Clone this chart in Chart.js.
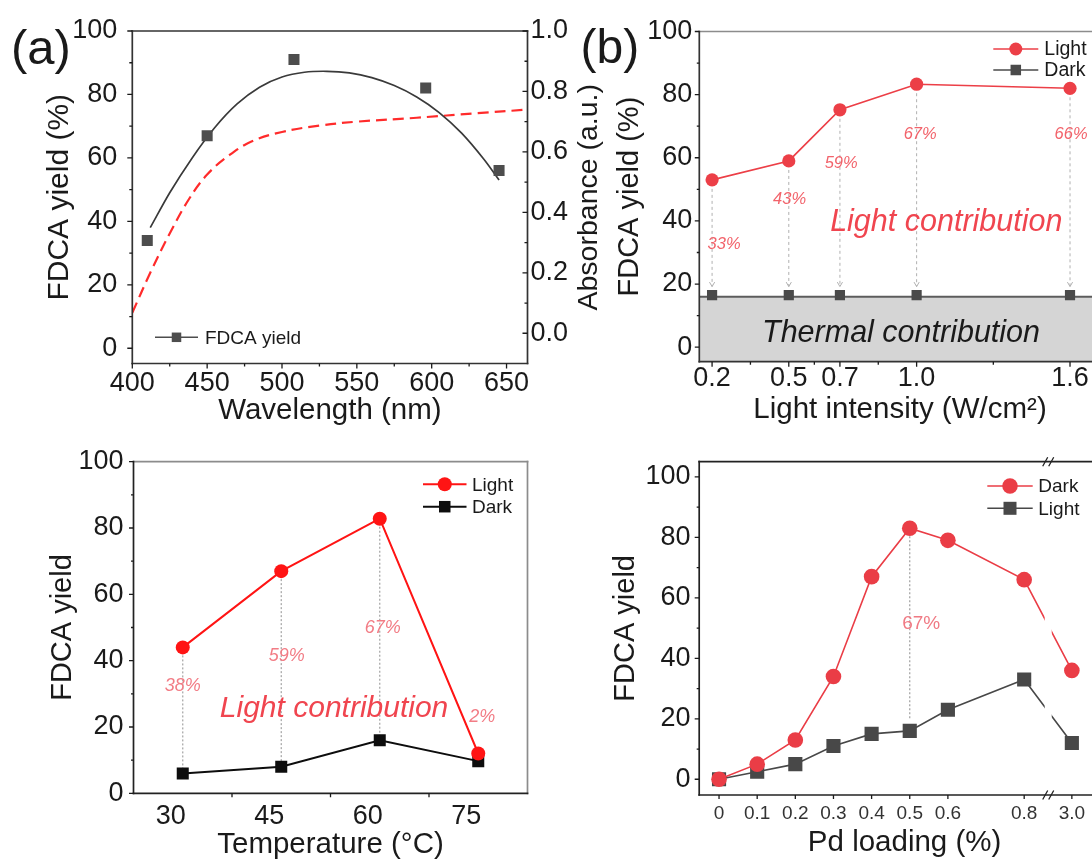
<!DOCTYPE html>
<html>
<head>
<meta charset="utf-8">
<title>FDCA yield – four panels</title>
<script src="https://cdn.jsdelivr.net/npm/chart.js@4/dist/chart.umd.min.js"></script>
<style>
  html, body { margin: 0; padding: 0; background: #fff; width: 1092px; height: 860px; overflow: hidden; }
  .panel { position: absolute; }
  .panel canvas { display: block; }
</style>
</head>
<body>
<div class="panel" style="left:0;top:0;width:620px;height:432px"><canvas id="chartA" width="620" height="432"></canvas></div>
<div class="panel" style="left:560px;top:0;width:560px;height:432px"><canvas id="chartB" width="560" height="432"></canvas></div>
<div class="panel" style="left:0;top:430px;width:546px;height:430px"><canvas id="chartC" width="546" height="430"></canvas></div>
<div class="panel" style="left:560px;top:430px;width:560px;height:430px"><canvas id="chartD" width="560" height="430"></canvas></div>

<script>
// ---------- (a) yield vs. wavelength, with absorbance ----------
const wavelengths = [410, 450, 508, 596, 645];
const yieldByWavelength = [34, 67, 91, 82, 56];
const fitWavelengths = [412, 425, 440, 455, 470, 485, 500, 515, 530, 545, 560, 575, 590, 605, 620, 635, 645];
const fitYield = [38, 49, 60, 69.5, 77, 82.3, 85.5, 87, 87.3, 86.8, 85.3, 82.8, 79.2, 74.3, 67.8, 59.5, 53];
const absWavelengths = [400, 412, 425, 438, 450, 465, 480, 500, 525, 550, 590, 630, 664];
const absorbance = [0.068, 0.20, 0.33, 0.445, 0.525, 0.59, 0.635, 0.666, 0.687, 0.70, 0.713, 0.728, 0.74];
const wavelengthTicks = [400, 450, 500, 550, 600, 650];
const yieldTicks = [0, 20, 40, 60, 80, 100];
const absTicks = [0, 0.2, 0.4, 0.6, 0.8, 1.0];
const absTickLabels = ['0.0', '0.2', '0.4', '0.6', '0.8', '1.0'];

// ---------- (b) yield vs. light intensity ----------
const intensities = [0.2, 0.5, 0.7, 1.0, 1.6];
const intensityTickLabels = ['0.2', '0.5', '0.7', '1.0', '1.6'];
const yieldLightB = [53, 59, 75.2, 83.3, 82];
const yieldDarkB = [16.5, 16.5, 16.5, 16.5, 16.5];
const thermalLevelB = 16;
const lightShareB = ['33%', '43%', '59%', '67%', '66%'];

// ---------- (c) yield vs. temperature ----------
const temperatures = ['30', '45', '60', '75'];
const yieldLightC = [44, 67, 82.8, 12];
const yieldDarkC = [6, 8, 16, 9.7];
const lightShareC = ['38%', '59%', '67%', '2%'];

// ---------- (d) yield vs. Pd loading ----------
const pdLoadings = [0, 0.1, 0.2, 0.3, 0.4, 0.5, 0.6, 0.8, 3.0];
const pdTickLabels = ['0', '0.1', '0.2', '0.3', '0.4', '0.5', '0.6', '0.8', '3.0'];
const yieldDarkD = [0, 5, 13, 34, 67, 83, 79, 66, 36];
const yieldLightD = [0, 2.5, 5, 11, 15, 16, 23, 33, 12];
const lightShareD = ['67%'];

// ---------- look ----------
const FONT = "'Liberation Sans', Arial, Helvetica, sans-serif";
const INK = '#1a1a1a';
Chart.defaults.font.family = FONT;
Chart.defaults.color = INK;
Chart.defaults.animation = false;
Chart.defaults.events = [];
Chart.defaults.plugins.legend.display = false;
Chart.defaults.plugins.tooltip.enabled = false;

const pts = (xs, ys) => xs.map((x, i) => ({ x, y: ys[i] }));
const setTicks = values => scale => { scale.ticks = values.map(v => ({ value: v })); };

// Linear scale that squeezes out the stretch between breakFrom and breakTo.
const LinearBase = Chart.registry.getScale('linear');
class BrokenLinearScale extends LinearBase {
  squeeze(v) {
    const a = this.options.breakFrom, b = this.options.breakTo;
    if (a == null || v <= a) return v;
    if (v >= b) return a + (v - b);
    return a;
  }
  expand(u) {
    const a = this.options.breakFrom, b = this.options.breakTo;
    if (a == null || u <= a) return u;
    return b + (u - a);
  }
  configure() {
    super.configure();
    const s = this.squeeze(this.min), e = this.squeeze(this.max);
    this._startValue = s;
    this._endValue = e;
    this._valueRange = e - s;
  }
  getPixelForValue(v) {
    return (v === null || isNaN(v)) ? NaN : this.getPixelForDecimal((this.squeeze(v) - this._startValue) / this._valueRange);
  }
  getValueForPixel(p) {
    return this.expand(this._startValue + this.getDecimalForPixel(p) * this._valueRange);
  }
}
BrokenLinearScale.id = 'brokenLinear';
BrokenLinearScale.defaults = {};
Chart.register(BrokenLinearScale);

// Per-canvas decoration settings (frame, tick marks, key, notes ...)
const decor = {};
const cfg = (chart, key) => (decor[chart.canvas.id] || {})[key];

// ---------- drawing helpers (plugins) ----------
const linksPlugin = {
  id: 'links',
  beforeDatasetsDraw(chart) {
    const sets = cfg(chart, 'links');
    if (!sets) return;
    const ctx = chart.ctx, xs = chart.scales.x, ys = chart.scales.y;
    sets.forEach(set => {
      set.at.forEach(i => {
        const x = xs.getPixelForValue(set.xs ? set.xs[i] : i);
        const y0 = ys.getPixelForValue(set.from[i]) + (set.startGap || 0);
        const y1 = ys.getPixelForValue(set.to[i]) - (set.endGap || 0);
        ctx.save();
        ctx.strokeStyle = set.color; ctx.lineWidth = set.width || 1;
        ctx.setLineDash(set.dash || []);
        ctx.beginPath(); ctx.moveTo(x, y0); ctx.lineTo(x, y1); ctx.stroke();
        if (set.arrow) {
          ctx.setLineDash([]);
          ctx.beginPath();
          ctx.moveTo(x - 2.6, y1 - 4.5); ctx.lineTo(x, y1); ctx.lineTo(x + 2.6, y1 - 4.5);
          ctx.stroke();
        }
        ctx.restore();
      });
    });
  }
};

const notesPlugin = {
  id: 'notes',
  afterDatasetsDraw(chart) {
    const items = cfg(chart, 'notes');
    if (!items) return;
    const ctx = chart.ctx;
    items.forEach(n => {
      const px = chart.scales.x.getPixelForValue(n.x);
      const py = chart.scales.y.getPixelForValue(n.y);
      ctx.save();
      ctx.font = (n.italic ? 'italic ' : '') + n.size + 'px ' + FONT;
      ctx.fillStyle = n.color;
      ctx.textAlign = 'center';
      ctx.textBaseline = 'middle';
      ctx.fillText(n.text, px, py);
      ctx.restore();
    });
  }
};

const gapPlugin = {
  id: 'axisBreak',
  beforeDatasetsDraw(chart) {
    const o = cfg(chart, 'axisBreak');
    if (!o) return;
    const a = chart.chartArea, ctx = chart.ctx;
    const x = chart.scales.x.getPixelForValue(o.value), g = o.lineGap;
    ctx.save();
    ctx.beginPath();
    ctx.rect(a.left - 20, a.top - 20, (x - g) - (a.left - 20), a.bottom - a.top + 40);
    ctx.rect(x + g, a.top - 20, a.right + 20 - (x + g), a.bottom - a.top + 40);
    ctx.clip();
  },
  afterDatasetsDraw(chart) {
    if (!cfg(chart, 'axisBreak')) return;
    chart.ctx.restore();
  },
  afterDraw(chart) {
    const o = cfg(chart, 'axisBreak');
    if (!o) return;
    const a = chart.chartArea, ctx = chart.ctx;
    const x = chart.scales.x.getPixelForValue(o.value), g = o.markGap;
    [a.top, a.bottom].forEach(y => {
      ctx.save();
      ctx.fillStyle = '#fff';
      ctx.fillRect(x - g, y - 3, 2 * g, 6);
      ctx.strokeStyle = o.color; ctx.lineWidth = 1.3;
      ctx.beginPath();
      [-g, g].forEach(off => { ctx.moveTo(x + off - 2.5, y + 4.5); ctx.lineTo(x + off + 2.5, y - 4.5); });
      ctx.stroke();
      ctx.restore();
    });
  }
};

const framePlugin = {
  id: 'frame',
  afterDraw(chart) {
    const o = cfg(chart, 'frame');
    if (!o) return;
    const a = chart.chartArea, ctx = chart.ctx, s = o.sides;
    const seg = (c, x0, y0, x1, y1) => {
      if (!c) return;
      ctx.strokeStyle = c; ctx.beginPath(); ctx.moveTo(x0, y0); ctx.lineTo(x1, y1); ctx.stroke();
    };
    ctx.save();
    ctx.lineWidth = o.width; ctx.lineCap = 'square';
    seg(s.top, a.left, a.top, a.right, a.top);
    seg(s.right, a.right, a.top, a.right, a.bottom);
    seg(s.bottom, a.left, a.bottom, a.right, a.bottom);
    seg(s.left, a.left, a.top, a.left, a.bottom);
    ctx.restore();
  }
};

const marksPlugin = {
  id: 'tickMarks',
  afterDraw(chart) {
    const axes = cfg(chart, 'tickMarks');
    if (!axes) return;
    const a = chart.chartArea, ctx = chart.ctx;
    axes.forEach(ax => {
      const s = chart.scales[ax.id];
      const major = Array.isArray(ax.values) ? ax.values : s.ticks.map(t => t.value);
      const list = major.map(v => [v, ax.len]).concat((ax.minor || []).map(v => [v, ax.minorLen]));
      const sign = ax.dir === 'in' ? -1 : 1;
      ctx.save();
      ctx.strokeStyle = ax.color || INK; ctx.lineWidth = ax.width || 1.3;
      ctx.beginPath();
      list.forEach(([v, len]) => {
        const p = s.getPixelForValue(v);
        if (ax.side === 'left') { ctx.moveTo(a.left, p); ctx.lineTo(a.left - sign * len, p); }
        else if (ax.side === 'right') { ctx.moveTo(a.right, p); ctx.lineTo(a.right + sign * len, p); }
        else { ctx.moveTo(p, a.bottom); ctx.lineTo(p, a.bottom + sign * len); }
      });
      ctx.stroke();
      ctx.restore();
    });
  }
};

const keyPlugin = {
  id: 'keyBox',
  afterDraw(chart) {
    const o = cfg(chart, 'keyBox');
    if (!o) return;
    const a = chart.chartArea, ctx = chart.ctx;
    o.rows.forEach(r => {
      const ds = chart.data.datasets[r.dataset];
      const y = a.top + r.dy, x0 = a.left + o.dx, x1 = x0 + o.lineLen, xm = (x0 + x1) / 2;
      ctx.save();
      ctx.strokeStyle = ds.borderColor; ctx.lineWidth = o.lineWidth;
      ctx.beginPath(); ctx.moveTo(x0, y); ctx.lineTo(x1, y); ctx.stroke();
      ctx.fillStyle = ds.backgroundColor;
      if (ds.pointStyle === 'rect') {
        ctx.fillRect(xm - r.size / 2, y - r.size / 2, r.size, r.size);
      } else {
        ctx.beginPath(); ctx.arc(xm, y, r.size / 2, 0, Math.PI * 2); ctx.fill();
      }
      ctx.fillStyle = INK;
      ctx.font = o.size + 'px ' + FONT;
      ctx.textAlign = 'left'; ctx.textBaseline = 'middle';
      ctx.fillText(ds.label, x1 + o.gap, y + 1);
      ctx.restore();
    });
  }
};

const tagPlugin = {
  id: 'panelTag',
  afterDraw(chart) {
    const o = cfg(chart, 'panelTag');
    if (!o) return;
    const ctx = chart.ctx;
    ctx.save();
    ctx.font = o.size + 'px ' + FONT;
    ctx.fillStyle = INK; ctx.textAlign = 'left'; ctx.textBaseline = 'alphabetic';
    ctx.fillText(o.text, o.x, o.y);
    ctx.restore();
  }
};

const sideTitlePlugin = {
  id: 'sideTitle',
  afterDraw(chart) {
    const o = cfg(chart, 'sideTitle');
    if (!o) return;
    const a = chart.chartArea, ctx = chart.ctx;
    ctx.save();
    ctx.translate(o.x, (a.top + a.bottom) / 2);
    ctx.rotate(-Math.PI / 2);
    ctx.font = o.size + 'px ' + FONT;
    ctx.fillStyle = INK; ctx.textAlign = 'center'; ctx.textBaseline = 'middle';
    ctx.fillText(o.text, 0, 0);
    ctx.restore();
  }
};

Chart.register(linksPlugin, notesPlugin, gapPlugin, framePlugin, marksPlugin, keyPlugin, tagPlugin, sideTitlePlugin);

const bare = { grid: { display: false, drawTicks: false }, border: { display: false } };
const tickFont = { size: 27, lineHeight: 1 };
const titleFont = size => ({ size, lineHeight: 1.2 });
const odd10 = [10, 30, 50, 70, 90];

// ================= (a) =================
const grayA = '#4d4d4d';
decor.chartA = {
  frame: { width: 1.7, sides: { top: '#333', right: '#333', bottom: '#333', left: '#333' } },
  tickMarks: [
    { id: 'y', side: 'left', len: 5, minor: odd10, minorLen: 3 },
    { id: 'x', side: 'bottom', len: 5, minor: [425, 475, 525, 575, 625], minorLen: 3 },
    { id: 'y2', side: 'right', dir: 'in', len: 5, minor: [0.1, 0.3, 0.5, 0.7, 0.9], minorLen: 3 }
  ],
  keyBox: { dx: 22.7, lineLen: 43, gap: 7, lineWidth: 1.6, size: 19, rows: [{ dataset: 0, dy: 306.3, size: 9.5 }] },
  panelTag: { text: '(a)', x: 11, y: 63.5, size: 49 },
  sideTitle: { text: 'Absorbance (a.u.)', x: 589, size: 28.5 }
};
new Chart(document.getElementById('chartA'), {
  type: 'line',
  data: {
    datasets: [
      { label: 'FDCA yield', data: pts(wavelengths, yieldByWavelength), showLine: false,
        pointStyle: 'rect', pointRadius: 7.8, pointBorderWidth: 0,
        backgroundColor: grayA, borderColor: grayA, yAxisID: 'y' },
      { label: 'Polynomial fit', data: pts(fitWavelengths, fitYield), borderColor: '#3a3a3a',
        borderWidth: 1.7, pointRadius: 0, tension: 0.3, yAxisID: 'y' },
      { label: 'Absorbance', data: pts(absWavelengths, absorbance), borderColor: '#ff2b2b',
        borderWidth: 2.2, borderDash: [11, 6], pointRadius: 0, tension: 0.4, yAxisID: 'y2' }
    ]
  },
  options: {
    responsive: false, devicePixelRatio: 1,
    layout: { padding: { left: 0, top: 31, right: 0, bottom: 0 } },
    scales: {
      x: { ...bare, type: 'linear', min: 400, max: 664,
        afterBuildTicks: setTicks(wavelengthTicks),
        ticks: { font: tickFont, padding: 7, maxRotation: 0, autoSkip: false, color: INK },
        title: { display: true, text: 'Wavelength (nm)', font: titleFont(29.5), color: INK, padding: { top: 0, bottom: 3 } },
        afterFit: s => { s.height = 68.5; } },
      y: { ...bare, type: 'linear', position: 'left', min: -4.8, max: 100,
        afterBuildTicks: setTicks(yieldTicks),
        ticks: { font: tickFont, padding: 15, color: INK },
        title: { display: true, text: 'FDCA yield (%)', font: titleFont(30), color: INK, padding: { top: 41.5, bottom: 0 } },
        afterFit: s => { s.width = 132.3; } },
      y2: { ...bare, type: 'linear', position: 'right', min: -0.1, max: 1.0,
        afterBuildTicks: setTicks(absTicks),
        ticks: { font: tickFont, padding: 3, color: INK, callback: (v, i) => absTickLabels[i] },
        afterFit: s => { s.width = 92.5; } }
    }
  }
});

// ================= (b) =================
const redB = '#ec3f47', grayB = '#4a4a4a';
const axisB = { min: 0.15, max: 1.72 };
decor.chartB = {
  links: [{ xs: intensities, from: yieldLightB, to: yieldDarkB, at: [0, 1, 2, 3, 4],
    startGap: 9, endGap: 8.5, color: '#b0b0b0', dash: [3, 3], width: 1, arrow: true }],
  notes: [
    ...lightShareB.map((t, i) => ({ text: t, x: [0.247, 0.503, 0.705, 1.014, 1.604][i], y: [32.6, 46.7, 58.3, 67.5, 67.5][i],
      color: '#f2636b', size: 16.5, italic: true })),
    { text: 'Light contribution', x: 1.116, y: 39.5, color: '#f0454f', size: 30.5, italic: true },
    { text: 'Thermal contribution', x: 0.939, y: 4.2, color: '#1a1a1a', size: 30.5, italic: true }
  ],
  frame: { width: 1.7, sides: { top: '#8c8c8c', right: '#333', bottom: '#333', left: '#333' } },
  tickMarks: [
    { id: 'y', side: 'left', len: 4.5, minor: odd10, minorLen: 2.5 },
    { id: 'x', side: 'bottom', len: 5, minor: [0.35, 0.6, 0.85, 1.3], minorLen: 3 }
  ],
  keyBox: { dx: 294, lineLen: 45, gap: 6, lineWidth: 1.6, size: 19.5,
    rows: [{ dataset: 0, dy: 17.5, size: 13 }, { dataset: 1, dy: 38.5, size: 10.5 }] },
  panelTag: { text: '(b)', x: 20.5, y: 63, size: 48 }
};
new Chart(document.getElementById('chartB'), {
  type: 'line',
  data: {
    datasets: [
      { label: 'Light', data: pts(intensities, yieldLightB), borderColor: redB, backgroundColor: redB,
        borderWidth: 1.6, pointStyle: 'circle', pointRadius: 6.6, pointBorderWidth: 0 },
      { label: 'Dark', data: pts(intensities, yieldDarkB), showLine: false, borderColor: grayB, backgroundColor: grayB,
        pointStyle: 'rect', pointRadius: 7.2, pointBorderWidth: 0 },
      { label: 'Thermal contribution', data: pts([axisB.min, axisB.max], [thermalLevelB, thermalLevelB]),
        borderColor: '#5c5c5c', borderWidth: 2, backgroundColor: '#d5d5d5', fill: 'start', pointRadius: 0 }
    ]
  },
  options: {
    responsive: false, devicePixelRatio: 1,
    layout: { padding: { left: 0, top: 31.5, right: 19.3, bottom: 0 } },
    scales: {
      x: { ...bare, type: 'linear', min: axisB.min, max: axisB.max,
        afterBuildTicks: setTicks(intensities),
        ticks: { font: tickFont, padding: 3, maxRotation: 0, autoSkip: false, color: INK,
          callback: (v, i) => intensityTickLabels[i] },
        title: { display: true, text: 'Light intensity (W/cm²)', font: titleFont(29.5), color: INK, padding: { top: 0, bottom: 4 } },
        afterFit: s => { s.height = 70.3; } },
      y: { ...bare, type: 'linear', min: -4.6, max: 100,
        afterBuildTicks: setTicks(yieldTicks),
        ticks: { font: tickFont, padding: 7, color: INK },
        title: { display: true, text: 'FDCA yield (%)', font: titleFont(29), color: INK, padding: { top: 53, bottom: 0 } },
        afterFit: s => { s.width = 139.3; } }
    }
  }
});

// ================= (c) =================
const redC = '#ff1414', blackC = '#0d0d0d';
decor.chartC = {
  links: [{ from: yieldLightC, to: yieldDarkC, at: [0, 1, 2], color: '#a3a3a3', dash: [2, 2], width: 1.2 }],
  notes: [
    ...lightShareC.map((t, i) => ({ text: t, x: [0, 1.057, 2.03, 3.04][i], y: [32.3, 41.5, 49.7, 23][i],
      color: '#f27c85', size: 18, italic: true })),
    { text: 'Light contribution', x: 1.536, y: 25.5, color: '#f0454f', size: 30, italic: true }
  ],
  frame: { width: 1.7, sides: { top: '#8c8c8c', right: '#8c8c8c', bottom: '#222', left: '#222' } },
  tickMarks: [
    { id: 'y', side: 'left', len: 4.5, minor: odd10, minorLen: 2.5 },
    { id: 'x', side: 'bottom', values: [0.5, 1.5, 2.5], len: 4 }
  ],
  keyBox: { dx: 289.5, lineLen: 43.5, gap: 5.5, lineWidth: 2, size: 19,
    rows: [{ dataset: 0, dy: 22.6, size: 14 }, { dataset: 1, dy: 45, size: 11.5 }] },
  panelTag: { text: '(c)', x: 12, y: 500, size: 48 }
};
new Chart(document.getElementById('chartC'), {
  type: 'line',
  data: {
    labels: temperatures,
    datasets: [
      { label: 'Light', data: yieldLightC, borderColor: redC, backgroundColor: redC, borderWidth: 2,
        pointStyle: 'circle', pointRadius: 7, pointBorderWidth: 0 },
      { label: 'Dark', data: yieldDarkC, borderColor: blackC, backgroundColor: blackC, borderWidth: 2,
        pointStyle: 'rect', pointRadius: 8.5, pointBorderWidth: 0 }
    ]
  },
  options: {
    responsive: false, devicePixelRatio: 1,
    layout: { padding: { left: 0, top: 31.7, right: 18.5, bottom: 0 } },
    scales: {
      x: { ...bare, type: 'category', offset: true,
        ticks: { font: tickFont, padding: 10.2, maxRotation: 0, autoSkip: false, color: INK, labelOffset: -12 },
        title: { display: true, text: 'Temperature (°C)', font: { size: 29.5, lineHeight: 1 }, color: INK, padding: { top: 0, bottom: 0 } },
        afterFit: s => { s.height = 66.7; } },
      y: { ...bare, type: 'linear', min: 0, max: 100,
        afterBuildTicks: setTicks(yieldTicks),
        ticks: { font: tickFont, padding: 10, color: INK },
        title: { display: true, text: 'FDCA yield', font: titleFont(29), color: INK, padding: { top: 46, bottom: 0 } },
        afterFit: s => { s.width = 133.5; } }
    }
  }
});

// ================= (d) =================
const redD = '#ea3d46', grayD = '#484848';
decor.chartD = {
  links: [{ xs: pdLoadings, from: yieldDarkD, to: yieldLightD, at: [5], startGap: 0, endGap: 12,
    color: '#a0a0a0', dash: [2, 2], width: 1.2 }],
  notes: lightShareD.map(t => ({ text: t, x: 0.53, y: 51.5, color: '#f07a84', size: 19, italic: false })),
  axisBreak: { value: 0.863, lineGap: 3.5, markGap: 3, color: '#222' },
  frame: { width: 1.7, sides: { top: '#222', right: '#222', bottom: '#222', left: '#222' } },
  tickMarks: [
    { id: 'y', side: 'left', len: 4.5, minor: odd10, minorLen: 2.5 },
    { id: 'x', side: 'bottom', len: 4 }
  ],
  keyBox: { dx: 288.1, lineLen: 45.4, gap: 5.6, lineWidth: 1.6, size: 19,
    rows: [{ dataset: 0, dy: 24.3, size: 15.5 }, { dataset: 1, dy: 46.6, size: 13 }] },
  panelTag: { text: '(d)', x: 19, y: 499, size: 48 }
};
new Chart(document.getElementById('chartD'), {
  type: 'line',
  data: {
    datasets: [
      { label: 'Dark', data: pts(pdLoadings, yieldDarkD), borderColor: redD, backgroundColor: redD, borderWidth: 1.6,
        pointStyle: 'circle', pointRadius: 7.8, pointBorderWidth: 0 },
      { label: 'Light', data: pts(pdLoadings, yieldLightD), borderColor: grayD, backgroundColor: grayD, borderWidth: 1.6,
        pointStyle: 'rect', pointRadius: 10, pointBorderWidth: 0 }
    ]
  },
  options: {
    responsive: false, devicePixelRatio: 1,
    layout: { padding: { left: 0, top: 31.7, right: 4.7, bottom: 0 } },
    scales: {
      x: { ...bare, type: 'brokenLinear', min: -0.052, max: 3.1, breakFrom: 0.863, breakTo: 2.938,
        afterBuildTicks: setTicks(pdLoadings),
        ticks: { font: { size: 19, lineHeight: 1 }, padding: 8.8, maxRotation: 0, autoSkip: false, color: '#333',
          callback: (v, i) => pdTickLabels[i] },
        title: { display: true, text: 'Pd loading (%)', font: { size: 29.5, lineHeight: 1 }, color: INK, padding: { top: 0, bottom: 2.5 } },
        afterFit: s => { s.height = 65; } },
      y: { ...bare, type: 'linear', min: -5.2, max: 105,
        afterBuildTicks: setTicks(yieldTicks),
        ticks: { font: tickFont, padding: 8.7, color: INK },
        title: { display: true, text: 'FDCA yield', font: titleFont(29), color: INK, padding: { top: 48.4, bottom: 0 } },
        afterFit: s => { s.width = 139.2; } }
    }
  }
});
</script>
</body>
</html>
